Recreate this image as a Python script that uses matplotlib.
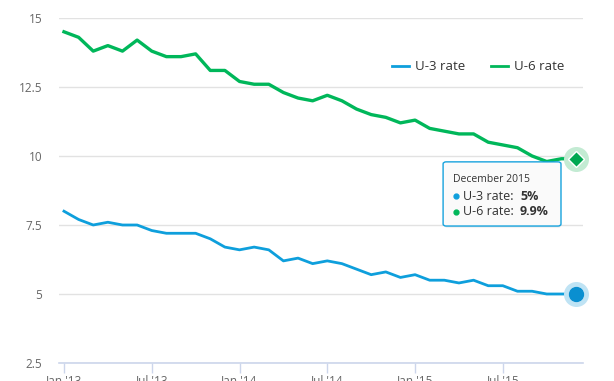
import matplotlib.pyplot as plt
from matplotlib.patches import FancyBboxPatch

plt.rcParams['font.family'] = ['Open Sans', 'DejaVu Sans']

# monthly index, Jan 2013 .. Dec 2015
months = list(range(36))
tick_pos = [0, 6, 12, 18, 24, 30]
tick_labels = ["Jan '13", "Jul '13", "Jan '14", "Jul '14", "Jan '15", "Jul '15"]

u3 = [8.0, 7.7, 7.5, 7.6, 7.5, 7.5, 7.3, 7.2, 7.2, 7.2, 7.0, 6.7,
      6.6, 6.7, 6.6, 6.2, 6.3, 6.1, 6.2, 6.1, 5.9, 5.7, 5.8, 5.6,
      5.7, 5.5, 5.5, 5.4, 5.5, 5.3, 5.3, 5.1, 5.1, 5.0, 5.0, 5.0]
u6 = [14.5, 14.3, 13.8, 14.0, 13.8, 14.2, 13.8, 13.6, 13.6, 13.7, 13.1, 13.1,
      12.7, 12.6, 12.6, 12.3, 12.1, 12.0, 12.2, 12.0, 11.7, 11.5, 11.4, 11.2,
      11.3, 11.0, 10.9, 10.8, 10.8, 10.5, 10.4, 10.3, 10.0, 9.8, 9.9, 9.9]

blue = '#0e9fdc'
green = '#00b75a'

fig = plt.figure(figsize=(6.14, 3.81), dpi=100)
ax = fig.add_axes([59 / 614, 1 - 363 / 381, 524 / 614, 345 / 381])

ax.plot(months, u3, color=blue, lw=2.0, label='U-3 rate', solid_joinstyle='round', zorder=3)
ax.plot(months, u6, color=green, lw=2.4, label='U-6 rate', solid_joinstyle='round', zorder=3)

# hover markers on December 2015
ax.plot(months[-1], u3[-1], 'o', ms=18, color='#bfe3f4', mec='none', zorder=4, clip_on=False)
ax.plot(months[-1], u3[-1], 'o', ms=10, color='#0a8fd0', mec='#0a8fd0', zorder=5, clip_on=False)
ax.plot(months[-1], u6[-1], 'o', ms=18, color='#c3ebd3', mec='none', zorder=4, clip_on=False)
ax.plot(months[-1], u6[-1], 'D', ms=8, color='#00a852', mec='white', mew=1, zorder=5, clip_on=False)

ax.set_xlim(-0.34, 35.48)
ax.set_ylim(2.5, 15)
ax.set_yticks([2.5, 5, 7.5, 10, 12.5, 15])
ax.set_yticklabels(['2.5', '5', '7.5', '10', '12.5', '15'])
ax.set_xticks(tick_pos)
ax.set_xticklabels(tick_labels)

ax.grid(axis='y', color='#e2e2e2', lw=1)
ax.set_axisbelow(True)
for s in ['top', 'right', 'left']:
    ax.spines[s].set_visible(False)
ax.spines['bottom'].set_color('#ccd6eb')
ax.spines['bottom'].set_linewidth(1.2)
ax.tick_params(axis='y', length=0, pad=12, labelsize=8.5, labelcolor='#666666')
ax.tick_params(axis='x', length=7, width=1, color='#ccd6eb', pad=1, labelsize=8.5, labelcolor='#666666')

leg = ax.legend(loc='center', bbox_to_anchor=(0.80, 0.858), ncol=2, frameon=False,
                fontsize=9.5, handlelength=1.3, handletextpad=0.5, columnspacing=1.9)
for t in leg.get_texts():
    t.set_color('#333333')
for h in leg.get_lines():
    h.set_linewidth(2)

# tooltip
shadow = FancyBboxPatch((0.736, 0.391), 0.222, 0.186, boxstyle='round,pad=0,rounding_size=0.006',
                        transform=ax.transAxes, fc='#000000', alpha=0.05, ec='none', clip_on=False, zorder=6)
ax.add_patch(shadow)
box = FancyBboxPatch((0.733, 0.397), 0.225, 0.186, boxstyle='round,pad=0,rounding_size=0.006',
                     transform=ax.transAxes, fc='#fbfbfb', alpha=0.97, ec=blue, lw=1, clip_on=False, zorder=7)
ax.add_patch(box)
ax.text(0.752, 0.533, 'December 2015', transform=ax.transAxes, fontsize=7.5, color='#333333',
        va='center', ha='left', zorder=8)
ax.plot(0.758, 0.484, 'o', ms=3.5, color=blue, transform=ax.transAxes, clip_on=False, zorder=8)
ax.text(0.771, 0.484, 'U-3 rate: ', transform=ax.transAxes, fontsize=9, color='#333333',
        va='center', ha='left', zorder=8)
ax.text(0.880, 0.484, '5%', transform=ax.transAxes, fontsize=9, color='#333333', fontweight='bold',
        va='center', ha='left', zorder=8)
ax.plot(0.758, 0.438, 'o', ms=3.5, color=green, transform=ax.transAxes, clip_on=False, zorder=8)
ax.text(0.771, 0.438, 'U-6 rate: ', transform=ax.transAxes, fontsize=9, color='#333333',
        va='center', ha='left', zorder=8)
ax.text(0.880, 0.438, '9.9%', transform=ax.transAxes, fontsize=9, color='#333333', fontweight='bold',
        va='center', ha='left', zorder=8)

fig.savefig('out.png', dpi=100)
